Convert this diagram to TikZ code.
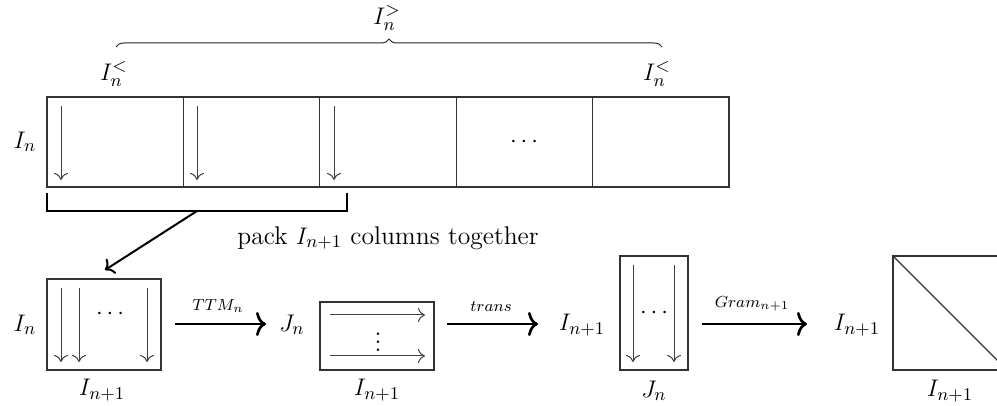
\documentclass[tikz,border=0pt]{standalone}
\usetikzlibrary{decorations.pathreplacing,arrows.meta}
\begin{document}
\begin{tikzpicture}[x=0.5pt,y=-0.5pt,
  font=\fontsize{12.8}{15}\selectfont,
  box/.style={draw=black!80, line width=0.55pt},
  col/.style={draw=black!75, line width=0.5pt, -{To[length=3.5pt,width=7pt]}},
  big/.style={line width=1.35pt, -{To[length=5pt,width=12pt]}},
  pk/.style={line width=1pt},
  lbl/.style={inner sep=0pt},
  small/.style={inner sep=0pt, font=\fontsize{10.95}{13}\selectfont}]
\useasboundingbox (0,0) rectangle (997,406);

% ---------- top row ----------
\draw[box] (47,97) rectangle (729,187);
\foreach \x in {183.4,319.8,456.2,592.6} \draw[box] (\x,97) -- (\x,187);
\foreach \x [count=\i] in {61,197,334} {
  \coordinate (ta\i) at (\x,106);
  \coordinate (tb\i) at (\x,180);
  \draw[col] (ta\i) -- (tb\i);
}
\node[lbl] (tdots) at (524,142) {$\cdots$};
\node[lbl] (tIn) at (25,142) {$I_n$};

\coordinate (brl) at (116,47);
\coordinate (brr) at (662,47);
\draw[draw=black!85, line width=0.5pt, decorate, decoration={brace, amplitude=4pt}] (brl) -- (brr);
\node[lbl] (Igt) at (387,18) {$I_n^{>}$};
\node[lbl] (Ilt1) at (114,74) {$I_n^{<}$};
\node[lbl] (Ilt2) at (657,74) {$I_n^{<}$};

% bracket under first columns
\draw[pk] (47,193) -- (47,211) -- (347,211) -- (347,193);
\coordinate (pkfrom) at (197,211);
\coordinate (pkto) at (105,270);
\draw[pk, -{To[length=4pt,width=9pt]}] (pkfrom) -- (pkto);
\node[lbl] (pack) at (388,238) {pack $I_{n+1}$ columns together};

% ---------- bottom row ----------
% box 1
\draw[box] (47,279) rectangle (161,370);
\foreach \x in {61,79,147} \draw[col] (\x,288) -- (\x,362);
\node[lbl] (d1) at (110,314) {$\cdots$};
\node[lbl] (b1l) at (25,325) {$I_n$};
\node[lbl] (b1b) at (102,390) {$I_{n+1}$};

% arrow 1
\coordinate (a1s) at (175,324);
\coordinate (a1e) at (266,324);
\draw[big] (a1s) -- (a1e);
\node[small] (a1l) at (218,306) {$\scriptstyle TTM_n$};

% box 2
\node[lbl] (b2l) at (292,325) {$J_n$};
\draw[box] (320,302) rectangle (434,370);
\foreach \y in {315,356} \draw[col] (330,\y) -- (425,\y);
\node[lbl] (d2) at (378,336) {$\vdots$};
\node[lbl] (b2b) at (377,390) {$I_{n+1}$};

% arrow 2
\coordinate (a2s) at (447,324);
\coordinate (a2e) at (538,324);
\draw[big] (a2s) -- (a2e);
\node[small] (a2l) at (491,307) {$\scriptstyle trans$};

% box 3
\node[lbl] (b3l) at (582,325) {$I_{n+1}$};
\draw[box] (620,256) rectangle (688,370);
\foreach \x in {633,674} \draw[col] (\x,265) -- (\x,362);
\node[lbl] (d3) at (654,313) {$\cdots$};
\node[lbl] (b3b) at (654,391) {$J_n$};

% arrow 3
\coordinate (a3s) at (702,324);
\coordinate (a3e) at (807,324);
\draw[big] (a3s) -- (a3e);
\node[small] (a3l) at (752,304) {$\scriptstyle Gram_{n+1}$};

% box 4
\node[lbl] (b4l) at (857,325) {$I_{n+1}$};
\draw[box] (893,256) rectangle (1007,370);
\draw[box] (893,256) -- (1007,370);
\node[lbl] (b4b) at (950,391) {$I_{n+1}$};
\end{tikzpicture}
\end{document}
